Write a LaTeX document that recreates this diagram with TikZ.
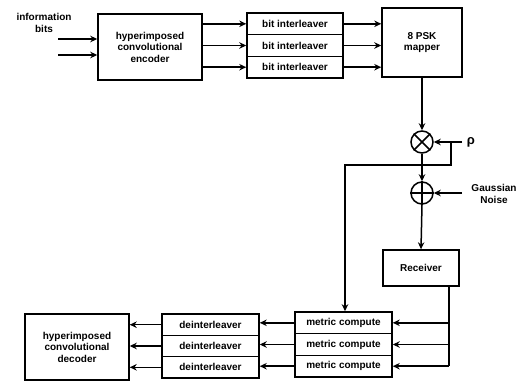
\documentclass[tikz,border=0pt]{standalone}
\usepackage{fontspec}
\setmainfont{Liberation Sans}
\usetikzlibrary{positioning,arrows.meta}

\begin{document}
\begin{tikzpicture}[x=1pt,y=-1pt,>={Stealth[length=7pt,width=6.5pt]},line width=1.5pt,
  blk/.style={draw,line width=1.5pt,align=center,font=\bfseries\fontsize{10}{11.5}\selectfont,inner sep=0pt},
  lbl/.style={align=center,font=\bfseries\fontsize{10}{11.5}\selectfont,inner sep=0pt}]
\useasboundingbox (0,0) rectangle (527,381);
% transmitter
\node[blk,minimum width=104,minimum height=66] (enc) at (150,47) {hyperimposed\\convolutional\\encoder};
\node[blk,minimum width=96,minimum height=21.7] (il1) at (295,23.8) {bit interleaver};
\node[blk,minimum width=96,minimum height=21.7] (il2) at (295,45.5) {bit interleaver};
\node[blk,minimum width=96,minimum height=21.7] (il3) at (295,67.2) {bit interleaver};
\node[blk,minimum width=80,minimum height=69] (map) at (422,42.5) {8 PSK\\mapper};
\node[lbl] (info) at (44,23) {information\\bits};
\coordinate (in1) at (58,39);
\coordinate (in2) at (58,55);
\draw[->] (in1) -- (in1 -| enc.west);
\draw[->] (in2) -- (in2 -| enc.west);
\foreach \i in {1,2,3} {
  \draw[->] (enc.east |- il\i.west) -- (il\i.west);
  \draw[->] (il\i.east) -- (il\i.east -| map.west);
}
% channel
\node[draw,circle,minimum size=22,inner sep=0pt] (mul) at (422,142) {};
\draw (mul.north west) -- (mul.south east) (mul.north east) -- (mul.south west);
\node[draw,circle,minimum size=22,inner sep=0pt] (add) at (422,193) {};
\draw (add.north) -- (add.south) (add.west) -- (add.east);
\coordinate (rho) at (462,142);
\node[lbl,right=4pt of rho,font=\bfseries\fontsize{13}{14}\selectfont] (rholbl) {ρ};
\coordinate (noise) at (462,193);
\node[lbl] (noiselbl) at (494,194) {Gaussian\\Noise};
\draw[->] (map.south) -- (mul.north);
\draw[->] (rho) -- (mul.east);
\draw[->] (mul.south) -- (add.north);
\draw[->] (noise) -- (add.east);
\node[blk,minimum width=76,minimum height=36] (rcv) at (421,268) {Receiver};
\draw[->] (add.south) -- (rcv.north);
% receiver side
\node[blk,minimum width=97,minimum height=21.7] (met1) at (343.5,322.8) {metric compute};
\node[blk,minimum width=97,minimum height=21.7] (met2) at (343.5,344.5) {metric compute};
\node[blk,minimum width=97,minimum height=21.7] (met3) at (343.5,366.2) {metric compute};
\node[blk,minimum width=97,minimum height=21.3] (dl1) at (210.5,324.7) {deinterleaver};
\node[blk,minimum width=97,minimum height=21.3] (dl2) at (210.5,346) {deinterleaver};
\node[blk,minimum width=97,minimum height=21.3] (dl3) at (210.5,367.3) {deinterleaver};
\node[blk,minimum width=104,minimum height=66] (dec) at (77,347) {hyperimposed\\convolutional\\decoder};
\coordinate (tap) at (451,142);
\coordinate (tapturn) at (345,165);
\draw[->] (tap) |- (tapturn) -- (tapturn |- met1.north);
\coordinate (rxout) at ([xshift=-11pt]rcv.south east);
\draw (rxout) -- (rxout |- met3.east);
\foreach \i in {1,2,3} {
  \draw[->] (rxout |- met\i.east) -- (met\i.east);
  \draw[->] (met\i.west) -- (met\i.west -| dl\i.east);
  \draw[->] (dl\i.west) -- (dl\i.west -| dec.east);
}
\end{tikzpicture}
\end{document}
